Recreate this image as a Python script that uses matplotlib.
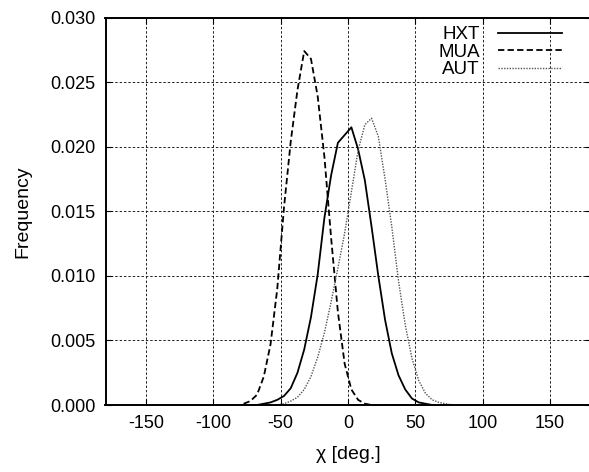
import matplotlib
matplotlib.use("Agg")
import matplotlib.pyplot as plt
import numpy as np

plt.rcParams['font.family'] = ['Liberation Sans', 'DejaVu Sans']
plt.rcParams['axes.unicode_minus'] = False

# bin centres (deg)
chi = [-77.5, -72.5, -67.5, -62.5, -57.5, -52.5, -47.5, -42.5, -37.5, -32.5,
       -27.5, -22.5, -17.5, -12.5, -7.5, -2.5, 2.5, 7.5, 12.5, 17.5,
       22.5, 27.5, 32.5, 37.5, 42.5, 47.5, 52.5, 57.5, 62.5, 67.5,
       72.5, 77.5]

hxt = [0.0, 0.0, 0.0, 0.0001, 0.0002, 0.0004, 0.0007, 0.0013, 0.0025, 0.0043,
       0.0068, 0.0101, 0.0145, 0.0178, 0.0203, 0.0209, 0.0215, 0.0198, 0.0174, 0.0138,
       0.0100, 0.0066, 0.0040, 0.0023, 0.0012, 0.0005, 0.0002, 0.0001, 0.0, 0.0,
       0.0, 0.0]

mua = [0.0001, 0.0003, 0.0008, 0.0022, 0.0047, 0.0090, 0.0153, 0.0204, 0.0244, 0.0274,
       0.0268, 0.0239, 0.0192, 0.0129, 0.0072, 0.0032, 0.0012, 0.0004, 0.0001, 0.0,
       0.0, 0.0, 0.0, 0.0, 0.0, 0.0, 0.0, 0.0, 0.0, 0.0,
       0.0, 0.0]

aut = [0.0, 0.0, 0.0, 0.0, 0.0, 0.0, 0.0001, 0.0003, 0.0006, 0.0012,
       0.0022, 0.0037, 0.0056, 0.0080, 0.0106, 0.0133, 0.0165, 0.0197, 0.0217, 0.0222,
       0.0208, 0.0175, 0.0138, 0.0096, 0.0062, 0.0036, 0.0019, 0.0009, 0.0004, 0.0002,
       0.0001, 0.0]

xticks = [-150, -100, -50, 0, 50, 100, 150]
yticks = [0.000, 0.005, 0.010, 0.015, 0.020, 0.025, 0.030]

fig = plt.figure(figsize=(5.89, 4.72), dpi=100)
ax = fig.add_axes([105.5/589, 67/472, (590.5-105.5)/589, (405-17.5)/472])

ax.plot(chi, hxt, color='black', lw=1.3, label='HXT')
ax.plot(chi, mua, color='black', lw=1.3, ls=(0, (3.5, 1.8)), label='MUA')
ax.plot(chi, aut, color='#555555', lw=1.0, ls=(0, (1, 1)), label='AUT')

ax.set_xlim(-180, 180)
ax.set_ylim(0, 0.030)
ax.set_xticks(xticks)
ax.set_yticks(yticks)
ax.set_yticklabels(['%.3f' % v for v in yticks])
ax.tick_params(direction='in', top=True, right=True, length=4, labelsize=13, pad=7)
ax.grid(True, color='#222222', lw=0.7, ls=(0, (2.5, 2)))
for s in ax.spines.values():
    s.set_linewidth(1.4)

ax.set_xlabel(u'χ [deg.]', fontsize=14, labelpad=10)
ax.set_ylabel('Frequency', fontsize=14, labelpad=14)

leg = ax.legend(loc='upper right', frameon=False, markerfirst=False,
                fontsize=13.5, handlelength=3.4, handletextpad=1.0,
                labelspacing=0.02, borderaxespad=0.0,
                bbox_to_anchor=(0.957, 0.997))

fig.savefig('out.png', dpi=100)
